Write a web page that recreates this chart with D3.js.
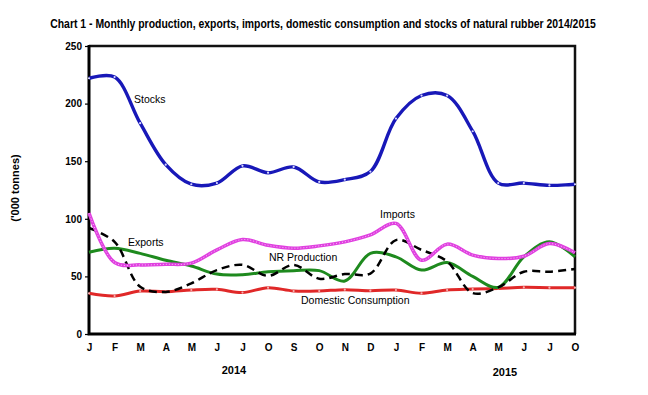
<!DOCTYPE html>
<html>
<head>
<meta charset="utf-8">
<script src="https://cdn.jsdelivr.net/npm/d3@7"></script>
<style>
  body { margin: 0; background: #fff; }
  text { font-family: "Liberation Sans", Arial, sans-serif; }
</style>
</head>
<body>
<div id="chart"></div>
<script>
// categorias (meses jan/2014 a out/2015, rótulos como no original)
const months = ["J","F","M","A","M","J","J","O","S","O","N","D","J","F","M","A","M","J","J","O"];
const yTicks = [0, 50, 100, 150, 200, 250];

// séries em '000 toneladas
const stocks = [222, 223, 183, 147, 130, 131, 146, 140, 145, 132, 134, 141, 187, 207, 207, 176, 131, 131, 129, 130];
const imports = [105, 62, 60, 60.5, 61.5, 73, 82, 77, 74.5, 76.5, 80, 86, 96, 64, 78, 68.5, 65.5, 67.5, 78.5, 70.5];
const exportsS = [71, 74.5, 70, 64, 59, 52, 51.5, 54, 55, 55, 46, 70, 67, 55.5, 62, 50, 40.5, 67, 80, 67];
const nrProduction = [92, 80, 41, 36.5, 44, 55.5, 60, 50.5, 60, 48, 52, 52.5, 81.5, 73, 63, 35.5, 40.5, 54, 54, 56.5];
const domestic = [35.3, 33, 37.3, 36.7, 38.2, 38.8, 36, 40.2, 37.3, 37.3, 38.5, 37.6, 38.2, 35.3, 38.2, 39, 39.6, 40.5, 40.2, 40.2];

const W = 648, H = 395;
const plot = { left: 89, right: 575, top: 46, bottom: 334 };

const svg = d3.select("#chart").append("svg")
    .attr("width", W)
    .attr("height", H);

const x = d3.scalePoint()
    .domain(d3.range(months.length))
    .range([plot.left, plot.right]);

const y = d3.scaleLinear()
    .domain([0, 250])
    .range([plot.bottom, plot.top]);

// título (fonte estreita: comprime na horizontal até caber em ~546px)
const title = svg.append("text")
    .attr("x", 0)
    .attr("y", 0)
    .attr("text-anchor", "middle")
    .attr("font-size", 12)
    .attr("font-weight", "bold")
    .text("Chart 1 - Monthly production, exports, imports, domestic consumption and stocks of natural rubber 2014/2015");
const titleLen = title.node().getComputedTextLength();
const sx = Math.min(1, 546 / titleLen);
title.attr("transform", `translate(323,28) scale(${sx},1)`);

// rótulo do eixo y
svg.append("text")
    .attr("transform", "translate(19,188) rotate(-90)")
    .attr("text-anchor", "middle")
    .attr("font-size", 11)
    .attr("font-weight", "bold")
    .text("('000 tonnes)");

// eixo y
const yAxis = svg.append("g")
    .attr("transform", `translate(${plot.left},0)`)
    .call(d3.axisLeft(y).tickValues(yTicks).tickSize(4).tickPadding(3));
yAxis.select(".domain").remove();
yAxis.selectAll("text")
    .attr("font-size", 10)
    .attr("font-weight", "bold")
    .attr("fill", "#000");
yAxis.selectAll("line").attr("stroke", "#000").attr("stroke-width", 1.2);

// eixo x (só rótulos)
const xAxis = svg.append("g")
    .attr("transform", `translate(0,${plot.bottom})`)
    .call(d3.axisBottom(x).tickFormat(i => months[i]).tickSize(0).tickPadding(10));
xAxis.select(".domain").remove();
xAxis.selectAll("text")
    .attr("font-size", 10)
    .attr("font-weight", "bold")
    .attr("fill", "#000");

// anos
svg.append("text").attr("x", 234).attr("y", 374).attr("text-anchor", "middle")
    .attr("font-size", 11).attr("font-weight", "bold").text("2014");
svg.append("text").attr("x", 505).attr("y", 376).attr("text-anchor", "middle")
    .attr("font-size", 11).attr("font-weight", "bold").text("2015");

// moldura da área do gráfico
svg.append("path")
    .attr("d", `M${plot.left},${plot.top}H${plot.right}V${plot.bottom}`)
    .attr("fill", "none")
    .attr("stroke", "#111")
    .attr("stroke-width", 2.5);
svg.append("path")
    .attr("d", `M${plot.left},${plot.top - 1}V${plot.bottom}H${plot.right + 1}`)
    .attr("fill", "none")
    .attr("stroke", "#000")
    .attr("stroke-width", 3);

const line = d3.line()
    .x((d, i) => x(i))
    .y(d => y(d))
    .curve(d3.curveCatmullRom.alpha(0.5));

function drawSeries(data, color, width, dash, markers) {
    svg.append("path")
        .datum(data)
        .attr("fill", "none")
        .attr("stroke", color)
        .attr("stroke-width", width)
        .attr("stroke-dasharray", dash)
        .attr("stroke-linejoin", "round")
        .attr("d", line);
    if (markers) {
        svg.append("g").selectAll("circle")
            .data(data)
            .join("circle")
            .attr("cx", (d, i) => x(i))
            .attr("cy", d => y(d))
            .attr("r", 1.1)
            .attr("fill", markers);
    }
}

drawSeries(domestic, "#e02828", 3, null, "#f6b0b0");
drawSeries(exportsS, "#1e8a1e", 3, null, null);
drawSeries(nrProduction, "#000", 2.5, "8,5", null);
drawSeries(imports, "#e040e0", 3.5, null, null);
// linha pontilhada clara no meio da série de importações
svg.append("path")
    .datum(imports)
    .attr("fill", "none")
    .attr("stroke", "#f6c0f6")
    .attr("stroke-width", 1)
    .attr("stroke-dasharray", "1,2")
    .attr("d", line);
drawSeries(stocks, "#1818b8", 3.4, null, "#d8d8ff");

// rótulos das séries
const labels = [
    { text: "Stocks", x: 134, y: 103 },
    { text: "Exports", x: 128, y: 246 },
    { text: "NR Production", x: 269, y: 261 },
    { text: "Domestic Consumption", x: 301, y: 304 },
    { text: "Imports", x: 380, y: 218 }
];
svg.append("g").selectAll("text")
    .data(labels)
    .join("text")
    .attr("x", d => d.x)
    .attr("y", d => d.y)
    .attr("font-size", 10.5)
    .attr("fill", "#000")
    .text(d => d.text);
</script>
</body>
</html>
